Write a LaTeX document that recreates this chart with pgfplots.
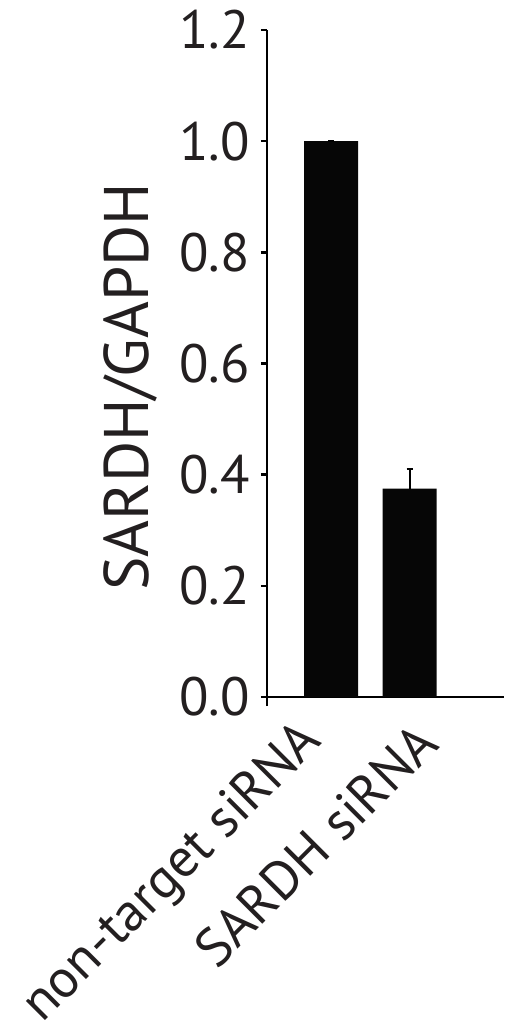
\documentclass[border=0pt]{standalone}
\usepackage{pgfplots}
\pgfplotsset{compat=1.18}
\usepackage{fontspec}
\setmainfont{PT Sans}
\definecolor{barblack}{HTML}{060606}
\definecolor{txt}{HTML}{231F20}

\begin{document}
\begin{tikzpicture}
\begin{axis}[
  scale only axis,
  width=118.5pt, height=333.5pt,
  xmin=-0.815, xmax=2.2,
  ymin=0, ymax=1.2,
  axis lines=left,
  axis line style={-, line width=1.2pt, black},
  y axis line style={shorten <=-4.5pt},
  ytick={0,0.2,...,1.2},
  yticklabel style={/pgf/number format/.cd, fixed, fixed zerofill, precision=1},
  tick align=outside,
  major tick length=3pt,
  tick style={line width=1.2pt, black},
  xtick={-0.12,1.32},
  xticklabels={non-target siRNA, SARDH siRNA},
  x tick style={draw=none},
  xticklabel style={rotate=45, anchor=east, xshift=-10pt, yshift=-8pt,
    font=\fontsize{27}{30}\selectfont},
  /pgf/number format/assume math mode=true,
  tick label style={font=\fontsize{27}{30}\selectfont, text=txt},
  ylabel={SARDH/GAPDH},
  every axis y label/.style={at={(ticklabel cs:0.465)}, rotate=90,
    anchor=near ticklabel, yshift=4pt, font=\fontsize{31.5}{34}\selectfont, text=txt},
  yticklabel shift=2pt,
  clip=false,
]
\addplot[ybar, bar width=27pt, fill=barblack, draw=none,
  error bars/.cd, y dir=plus, y explicit,
  error bar style={line width=1pt, black},
  error mark options={rotate=90, mark size=1.5pt, line width=1pt, black}]
  coordinates {(0,1.0) +- (0,0) (1,0.375) +- (0,0.035)};
\end{axis}
\pgfresetboundingbox
\path[use as bounding box] (-133.5pt,-167.5pt) rectangle (118.5pt,348.5pt);
\end{tikzpicture}
\end{document}
